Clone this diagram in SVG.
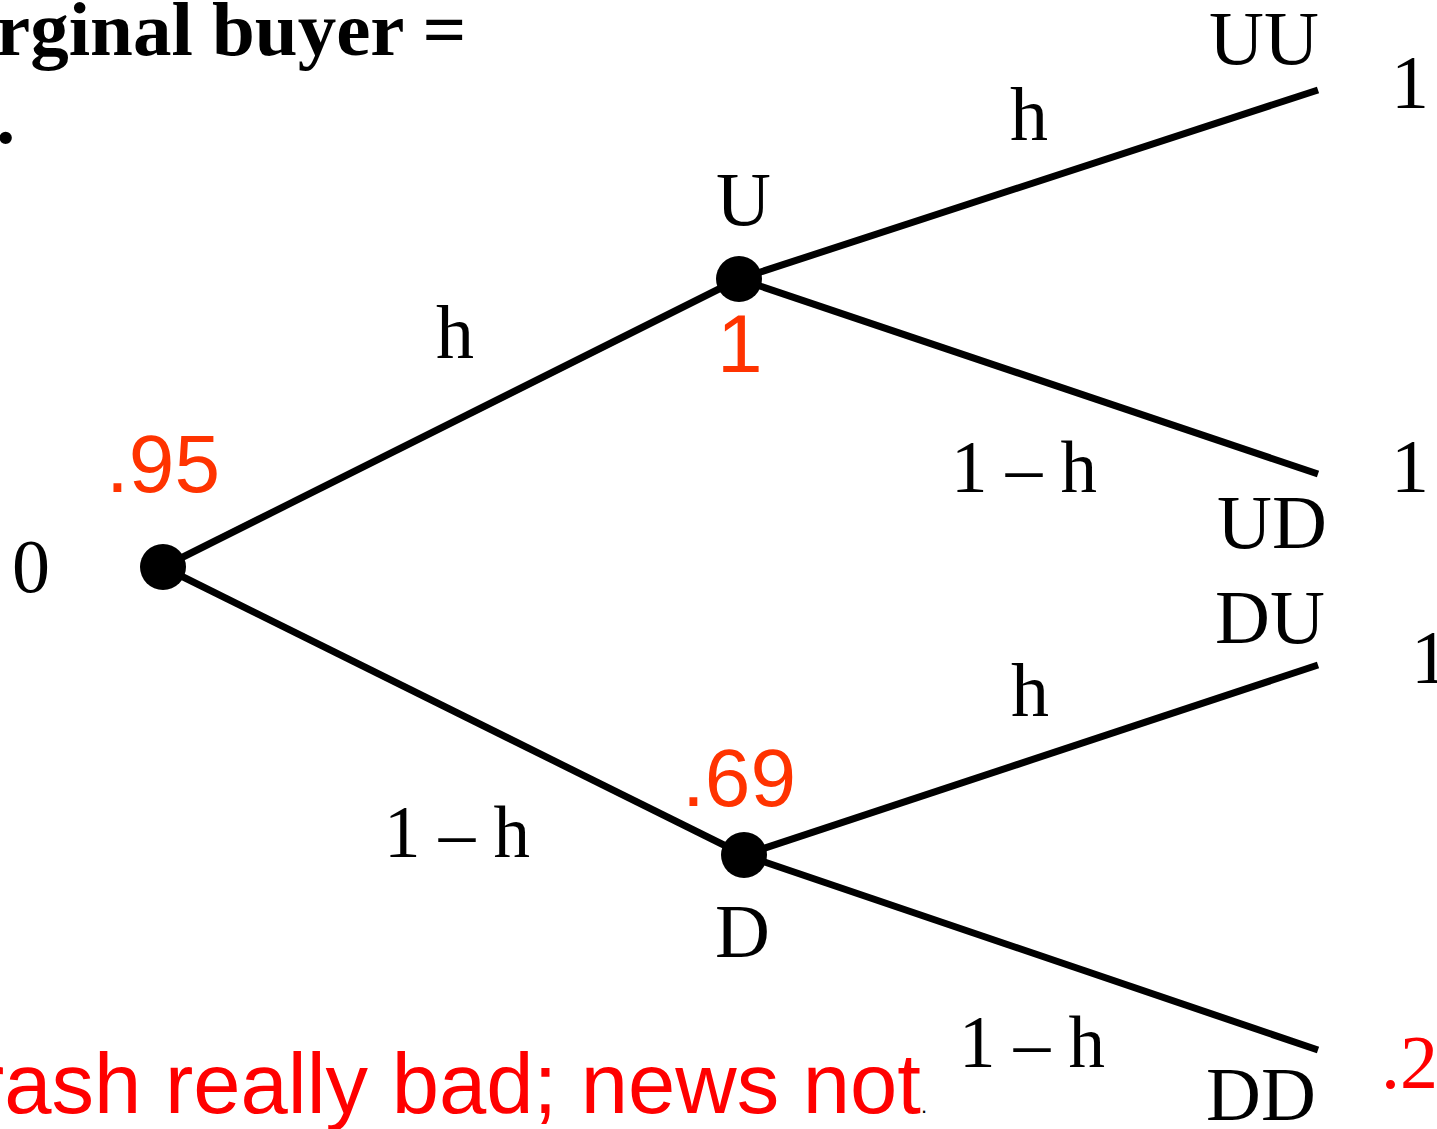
<svg xmlns="http://www.w3.org/2000/svg" width="1437" height="1129" viewBox="0 0 1437 1129">
<style>
.t{font-family:"Liberation Serif","Times New Roman",serif;font-size:76px;fill:#000}
.m{font-family:"Liberation Serif","Times New Roman",serif;font-size:73px;fill:#000}
.b{font-family:"Liberation Serif","Times New Roman",serif;font-size:77px;font-weight:bold;fill:#000}
.v{font-family:"Liberation Sans",Arial,sans-serif;font-size:82px;fill:#ff3300}
.r{font-family:"Liberation Sans",Arial,sans-serif;font-size:85px;fill:#ff0000}
.e{stroke:#000;stroke-width:7;fill:none;stroke-linecap:butt}
</style>
<rect width="1437" height="1129" fill="#fff"/>
<text class="b" x="-4" y="55">rginal buyer =</text>
<text class="b" x="-4" y="143">.</text>
<g id="connectors">
<line class="e" x1="163" y1="567" x2="739" y2="279"/>
<line class="e" x1="163" y1="567" x2="744" y2="855"/>
<line class="e" x1="739" y1="279" x2="1318" y2="90"/>
<line class="e" x1="739" y1="279" x2="1318" y2="474"/>
<line class="e" x1="744" y1="855" x2="1318" y2="665"/>
<line class="e" x1="744" y1="855" x2="1318" y2="1050"/>
<text class="t" x="436" y="358">h</text>
<text class="m" x="384" y="857">1 – h</text>
<text class="t" x="1010" y="140">h</text>
<text class="m" x="951" y="492">1 – h</text>
<text class="t" x="1011" y="716">h</text>
<text class="m" x="959" y="1067">1 – h</text>
</g>
<g id="node-root">
<circle cx="163" cy="567" r="23"/>
<text class="t" x="12" y="592">0</text>
<text class="v" x="106" y="492">.95</text>
</g>
<g id="node-U">
<circle cx="739" cy="279" r="23"/>
<text class="t" x="716" y="225">U</text>
<text class="v" x="717" y="372">1</text>
</g>
<g id="node-D">
<circle cx="744" cy="855" r="23"/>
<text class="t" x="715" y="957">D</text>
<text class="v" x="682" y="806">.69</text>
</g>
<g id="node-UU">
<text class="t" x="1209" y="64">UU</text>
<text class="t" x="1391" y="108">1</text>
</g>
<g id="node-UD">
<text class="t" x="1217" y="548">UD</text>
<text class="t" x="1391" y="492">1</text>
</g>
<g id="node-DU">
<text class="t" x="1215" y="643">DU</text>
<text class="t" x="1411" y="683">1</text>
</g>
<g id="node-DD">
<text class="t" x="1206" y="1120">DD</text>
<text class="t" x="1381" y="1088" style="fill:#ff0000">.2</text>
</g>
<text class="r" x="-24" y="1113">rash really bad; news not<tspan style="font-size:22px;fill:#000">.</tspan></text>
</svg>
